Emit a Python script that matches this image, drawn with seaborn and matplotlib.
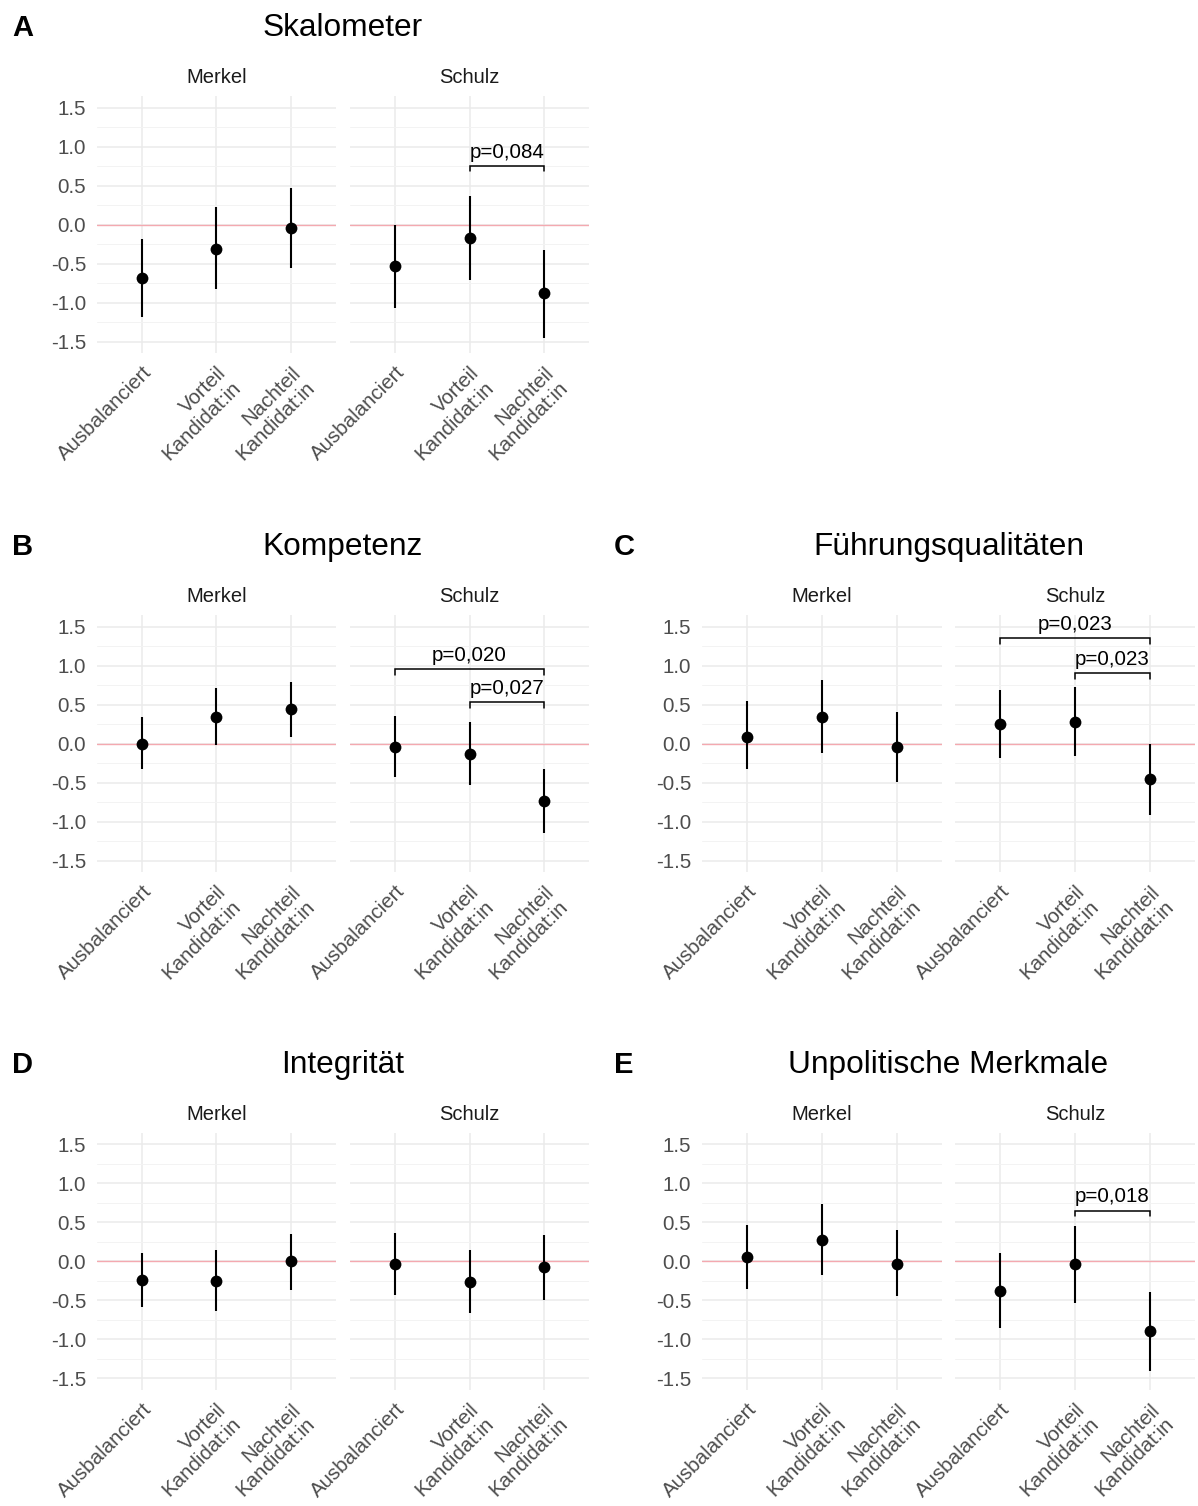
import numpy as np
import pandas as pd
import matplotlib
matplotlib.use("Agg")
import matplotlib.pyplot as plt
import seaborn as sns
from matplotlib.ticker import FixedLocator

sns.set_theme(style="white")
plt.rcParams['font.family'] = ['Liberation Sans', 'DejaVu Sans']
plt.rcParams['axes.unicode_minus'] = False

# ---------------- data ----------------
categories = ["Ausbalanciert", "Vorteil\nKandidat:in", "Nachteil\nKandidat:in"]
candidates = ["Merkel", "Schulz"]
y_ticks = [-1.5, -1.0, -0.5, 0.0, 0.5, 1.0, 1.5]
y_tick_labels = ["-1.5", "-1.0", "-0.5", "0.0", "0.5", "1.0", "1.5"]

# A Skalometer
skalo_est = {"Merkel": [-0.68, -0.31, -0.05], "Schulz": [-0.53, -0.17, -0.88]}
skalo_lo = {"Merkel": [-1.18, -0.83, -0.56], "Schulz": [-1.07, -0.71, -1.45]}
skalo_hi = {"Merkel": [-0.18, 0.22, 0.47], "Schulz": [-0.01, 0.36, -0.33]}
skalo_sig = [(1, 2, 0.75, "p=0,084")]

# B Kompetenz
komp_est = {"Merkel": [0.00, 0.34, 0.44], "Schulz": [-0.04, -0.13, -0.74]}
komp_lo = {"Merkel": [-0.33, -0.02, 0.09], "Schulz": [-0.43, -0.53, -1.15]}
komp_hi = {"Merkel": [0.34, 0.71, 0.79], "Schulz": [0.35, 0.27, -0.32]}
komp_sig = [(0, 2, 0.95, "p=0,020"), (1, 2, 0.53, "p=0,027")]

# C Führungsqualitäten
fuehr_est = {"Merkel": [0.09, 0.34, -0.05], "Schulz": [0.25, 0.28, -0.46]}
fuehr_lo = {"Merkel": [-0.33, -0.12, -0.49], "Schulz": [-0.18, -0.16, -0.92]}
fuehr_hi = {"Merkel": [0.54, 0.81, 0.40], "Schulz": [0.68, 0.73, 0.00]}
fuehr_sig = [(0, 2, 1.35, "p=0,023"), (1, 2, 0.90, "p=0,023")]

# D Integrität
integ_est = {"Merkel": [-0.24, -0.25, 0.00], "Schulz": [-0.04, -0.26, -0.07]}
integ_lo = {"Merkel": [-0.59, -0.63, -0.37], "Schulz": [-0.43, -0.66, -0.49]}
integ_hi = {"Merkel": [0.11, 0.14, 0.35], "Schulz": [0.36, 0.15, 0.34]}
integ_sig = []

# E Unpolitische Merkmale
unpol_est = {"Merkel": [0.06, 0.27, -0.03], "Schulz": [-0.38, -0.04, -0.89]}
unpol_lo = {"Merkel": [-0.36, -0.17, -0.45], "Schulz": [-0.86, -0.53, -1.41]}
unpol_hi = {"Merkel": [0.47, 0.73, 0.40], "Schulz": [0.11, 0.45, -0.39]}
unpol_sig = [(1, 2, 0.65, "p=0,018")]

panels = [
    ("A", "Skalometer", 0, 0, skalo_est, skalo_lo, skalo_hi, skalo_sig),
    ("B", "Kompetenz", 1, 0, komp_est, komp_lo, komp_hi, komp_sig),
    ("C", "Führungsqualitäten", 1, 1, fuehr_est, fuehr_lo, fuehr_hi, fuehr_sig),
    ("D", "Integrität", 2, 0, integ_est, integ_lo, integ_hi, integ_sig),
    ("E", "Unpolitische Merkmale", 2, 1, unpol_est, unpol_lo, unpol_hi, unpol_sig),
]

# ---------------- layout ----------------
W, H = 1198, 1506
fig = plt.figure(figsize=(W / 100, H / 100), dpi=100)

row_tops = [95.8, 614.8, 1132.6]
ax_h = 257.5
col_facets = [[(97.3, 335.7), (350.3, 588.7)], [(702.3, 941.7), (955.3, 1194.7)]]
letter_x = [12, 614]

TICK_COLOR = "#4D4D4D"
GRID = "#EBEBEB"
MINOR = "#F3F3F3"
HLINE = "#F4A9B0"

def add_px_axes(left, right, top, bottom):
    return fig.add_axes([left / W, 1 - bottom / H, (right - left) / W, (bottom - top) / H])

for letter, title, row, col, est, lo, hi, sig in panels:
    top = row_tops[row]
    bottom = top + ax_h
    for fi, cand in enumerate(candidates):
        left, right = col_facets[col][fi]
        ax = add_px_axes(left, right, top, bottom)
        df = pd.DataFrame({"cond": categories, "est": est[cand],
                           "lo": lo[cand], "hi": hi[cand]})
        xpos = np.arange(len(categories))
        ax.axhline(0, color=HLINE, lw=1.0, zorder=1.5)
        ax.vlines(xpos, df["lo"], df["hi"], color="black", lw=1.5, zorder=2)
        sns.stripplot(data=df, x="cond", y="est", order=categories, jitter=False,
                      color="black", size=8.5, linewidth=0, ax=ax, zorder=3)
        # significance brackets
        if cand == "Schulz":
            for a, b, yb, lab in sig:
                tip = 0.07
                ax.plot([xpos[a], xpos[a], xpos[b], xpos[b]],
                        [yb - tip, yb, yb, yb - tip], color="black", lw=1.1,
                        solid_joinstyle="miter", zorder=3)
                ax.text((xpos[a] + xpos[b]) / 2, yb + 0.105, lab, ha="center",
                        va="baseline", fontsize=14.8, color="black")
        ax.set_xlim(-0.6, 2.6)
        ax.set_ylim(-1.65, 1.65)
        ax.xaxis.set_major_locator(FixedLocator(list(xpos)))
        ax.yaxis.set_major_locator(FixedLocator(y_ticks))
        ax.yaxis.set_minor_locator(FixedLocator([-1.25, -0.75, -0.25, 0.25, 0.75, 1.25]))
        ax.grid(True, which="major", color=GRID, lw=1.1)
        ax.grid(True, which="minor", axis="y", color=MINOR, lw=0.7)
        ax.set_axisbelow(True)
        for s in ax.spines.values():
            s.set_visible(False)
        ax.tick_params(which="both", length=0)
        ax.tick_params(axis="y", pad=8)
        ax.tick_params(axis="x", pad=7)
        ax.set_xlabel("")
        ax.set_ylabel("")
        ax.set_xticklabels(categories, rotation=45, ha="right", va="top",
                           rotation_mode="anchor", fontsize=14.8, color=TICK_COLOR,
                           linespacing=1.1)
        if fi == 0:
            ax.set_yticklabels(y_tick_labels, fontsize=14.8, color=TICK_COLOR)
        else:
            ax.set_yticklabels([])
        ax.text(0.5, 1 + 12.5 / ax_h, cand, transform=ax.transAxes, ha="center",
                va="baseline", fontsize=14.5, color="#1A1A1A")
    # panel title and letter
    cx = (col_facets[col][0][0] + col_facets[col][1][1]) / 2
    base = top - 59.8
    fig.text(cx / W, 1 - base / H, title, ha="center", va="baseline",
             fontsize=22.8, color="black")
    fig.text(letter_x[col] / W, 1 - base / H, letter, ha="left", va="baseline",
             fontsize=21, fontweight="bold", color="black")

fig.savefig("out.png", dpi=100)
